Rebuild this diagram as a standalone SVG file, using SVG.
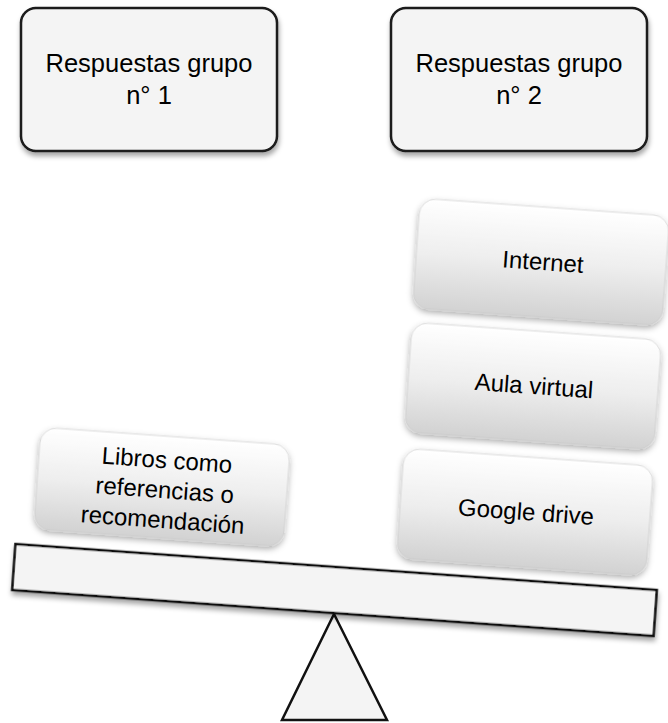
<svg xmlns="http://www.w3.org/2000/svg" width="668" height="723" viewBox="0 0 668 723">
<defs>
<style>
.hdr{fill:#f4f4f4;stroke:#1a1a1a;stroke-width:2.5}
.box{fill:url(#g);stroke:#c8c8c8;stroke-width:0.6}
.bar{fill:#f4f4f4;stroke:#111;stroke-width:2.5;stroke-linejoin:miter}
.t{font-family:"Liberation Sans",Arial,sans-serif;fill:#000;text-anchor:middle}
.t1{font-size:25.5px}
.t2{font-size:24px}
</style>
<linearGradient id="g" x1="0" y1="0" x2="0" y2="1">
<stop offset="0" stop-color="#ffffff"/>
<stop offset="0.5" stop-color="#eeeeee"/>
<stop offset="1" stop-color="#d2d2d2"/>
</linearGradient>
<filter id="sh" x="-10%" y="-10%" width="125%" height="135%">
<feDropShadow dx="1" dy="4" stdDeviation="2.5" flood-color="#000" flood-opacity="0.35"/>
</filter>
<filter id="sh2" x="-10%" y="-10%" width="125%" height="135%">
<feDropShadow dx="0" dy="3" stdDeviation="3" flood-color="#000" flood-opacity="0.32"/>
</filter>
</defs>

<g id="header1">
<rect class="hdr" x="21" y="8" width="256" height="143" rx="15" filter="url(#sh)"/>
<text class="t t1" x="149" y="72">Respuestas grupo</text>
<text class="t t1" x="149" y="104">n° 1</text>
</g>
<g id="header2">
<rect class="hdr" x="391" y="8" width="256" height="143" rx="15" filter="url(#sh)"/>
<text class="t t1" x="519" y="72">Respuestas grupo</text>
<text class="t t1" x="519" y="104">n° 2</text>
</g>

<g id="fulcrum">
<polygon class="bar" points="334,614 282,720 387,720"/>
</g>
<g id="beam" transform="translate(334.5,590) rotate(4.1)">
<rect class="bar" x="-321.5" y="-23" width="643" height="46" filter="url(#sh)"/>
</g>

<g id="libros" transform="translate(162,487) rotate(4.1)">
<rect class="box" x="-125" y="-51" width="250" height="102" rx="16" filter="url(#sh2)"/>
<text class="t t2" x="3" y="-19">Libros como</text>
<text class="t t2" x="3" y="11">referencias o</text>
<text class="t t2" x="3" y="41">recomendación</text>
</g>

<g id="internet" transform="translate(541,262) rotate(4.1)">
<rect class="box" x="-125" y="-55" width="250" height="110" rx="16" filter="url(#sh2)"/>
<text class="t t2" x="2" y="8">Internet</text>
</g>
<g id="aula" transform="translate(533,386) rotate(4.1)">
<rect class="box" x="-125" y="-55" width="250" height="110" rx="16" filter="url(#sh2)"/>
<text class="t t2" x="1" y="8">Aula virtual</text>
</g>
<g id="google" transform="translate(525,512) rotate(4.1)">
<rect class="box" x="-125" y="-55" width="250" height="110" rx="16" filter="url(#sh2)"/>
<text class="t t2" x="1" y="8">Google drive</text>
</g>
<g id="connectors"/>
</svg>
